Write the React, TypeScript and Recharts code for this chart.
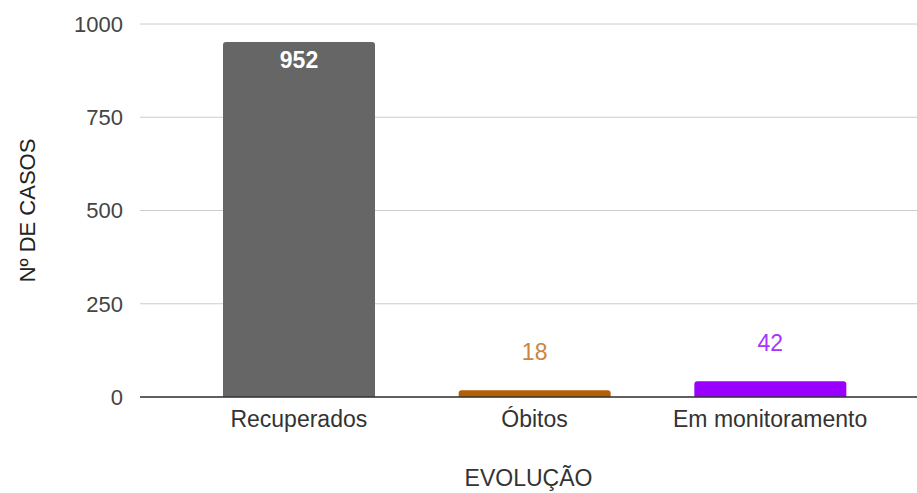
import { Bar, BarChart, CartesianGrid, Cell, Label, LabelList, XAxis, YAxis } from "recharts";

const categories = ["Recuperados", "Óbitos", "Em monitoramento"];
const casos = [952, 18, 42];
const barColors = ["#666666", "#b45f06", "#9900ff"];
const labelColors = ["#ffffff", "#cc843f", "#a634ff"];
const yTicks = [0, 250, 500, 750, 1000];

const data = categories.map((name, i) => ({ name, value: casos[i] }));

const FONT = "Arial, 'Liberation Sans', sans-serif";

const ValueLabel = (props: any) => {
  const { x, y, width, value, index } = props;
  const inside = index === 0;
  return (
    <text
      x={x + width / 2}
      y={inside ? y + 18 : y - 38}
      fill={labelColors[index]}
      fontSize={23}
      fontWeight={inside ? 600 : 400}
      fontFamily={FONT}
      textAnchor="middle"
      dominantBaseline="central"
    >
      {value}
    </text>
  );
};

export default function App() {
  return (
    <div style={{ position: "absolute", left: 0, top: 0, width: 917, height: 493, background: "#fff" }}>
      <BarChart width={917} height={493} data={data} margin={{ top: 24, right: 0, left: 0, bottom: 0 }}>
        <CartesianGrid vertical={false} stroke="#cccccc" />
        <XAxis
          dataKey="name"
          height={96}
          padding={{ left: 41, right: 29 }}
          axisLine={{ stroke: "#333333", strokeWidth: 1.5 }}
          tickLine={false}
          tickMargin={8}
          tick={{ fill: "#333333", fontSize: 23, fontFamily: FONT }}
        >
          <Label value="EVOLUÇÃO" position="insideBottom" offset={7} fill="#333333" fontSize={23} fontFamily={FONT} />
        </XAxis>
        <YAxis
          width={140}
          domain={[0, 1000]}
          ticks={yTicks}
          axisLine={false}
          tickLine={false}
          tickMargin={11}
          tick={{ fill: "#444444", fontSize: 22, fontFamily: FONT }}
        >
          <Label value="Nº DE CASOS" angle={-90} position="insideLeft" offset={27} fill="#222222" fontSize={22} fontFamily={FONT} style={{ textAnchor: "middle" }} />
        </YAxis>
        <Bar dataKey="value" barSize={152} radius={[3, 3, 0, 0]} isAnimationActive={false}>
          {data.map((_, i) => (
            <Cell key={i} fill={barColors[i]} />
          ))}
          <LabelList dataKey="value" content={ValueLabel} />
        </Bar>
      </BarChart>
    </div>
  );
}
